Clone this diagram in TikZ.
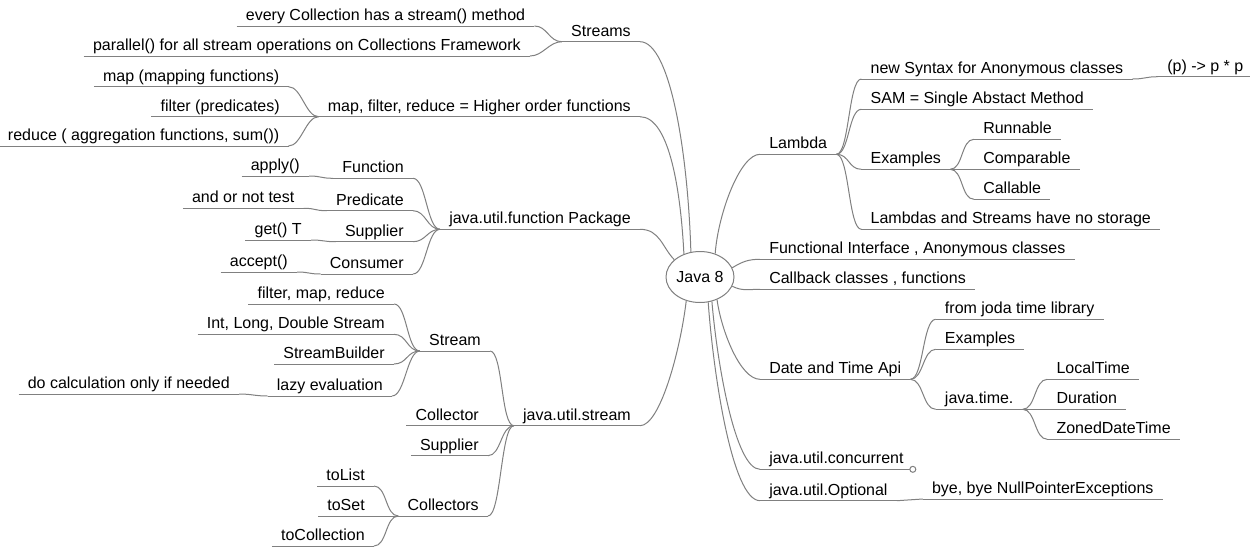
\documentclass[tikz,border=0pt]{standalone}
\usepackage{fontspec}
\setmainfont{Liberation Sans}
\usetikzlibrary{shapes.geometric}
\definecolor{lineGray}{RGB}{128,128,128}
\tikzstyle{branchLine} = [
    draw=lineGray,
    line width=0.75pt
    ]
\tikzstyle{topic} = [
    inner xsep=6.75pt,
    inner ysep=1.5pt,
    text depth=0.25em,
    font=\fontsize{12pt}{14pt}\selectfont,
    append after command={(\tikzlastnode.south west) edge[branchLine] (\tikzlastnode.south east)}
    ]
\tikzstyle{leftTopic} = [
    topic,
    anchor=south east
    ]
\tikzstyle{rightTopic} = [
    topic,
    anchor=south west
    ]
\tikzstyle{rootEllipse} = [
    ellipse,
    draw=lineGray,
    line width=0.75pt,
    minimum width=51pt,
    minimum height=38.25pt,
    inner sep=0pt,
    font=\fontsize{12pt}{14pt}\selectfont
    ]

\begin{document}
\begin{tikzpicture}[x=0.75pt, y=-0.75pt]
    \useasboundingbox[fill=white] (0,0) rectangle (1250,547);
    \node[rootEllipse] (java) at (700,277) {Java 8};

    % left side
    \node[leftTopic] (streams) at (640,41.7) {Streams};
    \node[leftTopic] (every) at (534.4,26) {every Collection has a stream() method};
    \node[leftTopic] (parallel) at (530,56) {parallel() for all stream operations on Collections Framework};
    \node[leftTopic] (mapf) at (640,116.7) {map, filter, reduce = Higher order functions};
    \node[leftTopic] (mapping) at (288.5,86.7) {map (mapping functions)};
    \node[leftTopic] (filterp) at (289,116.7) {filter (predicates)};
    \node[leftTopic] (reduce) at (288.5,146) {reduce ( aggregation functions, sum())};
    \node[leftTopic] (funpkg) at (640,229.3) {java.util.function Package};
    \node[leftTopic] (function) at (413,178.3) {Function};
    \node[leftTopic] (apply) at (309,176) {apply()};
    \node[leftTopic] (predicate) at (413,210.7) {Predicate};
    \node[leftTopic] (andor) at (303.6,208.3) {and or not test};
    \node[leftTopic] (supplier) at (413,241.7) {Supplier};
    \node[leftTopic] (gett) at (311,240) {get() T};
    \node[leftTopic] (consumer) at (413,274) {Consumer};
    \node[leftTopic] (accept) at (297,272) {accept()};
    \node[leftTopic] (stream) at (490,351) {Stream};
    \node[leftTopic] (fmr) at (394,304) {filter, map, reduce};
    \node[leftTopic] (intlong) at (394,334.3) {Int, Long, Double Stream};
    \node[leftTopic] (builder) at (394,364) {StreamBuilder};
    \node[leftTopic] (lazy) at (392,396) {lazy evaluation};
    \node[leftTopic] (calc) at (239,394) {do calculation only if needed};
    \node[leftTopic] (utilstream) at (640,425.7) {java.util.stream};
    \node[leftTopic] (collector) at (488,425.7) {Collector};
    \node[leftTopic] (supplierCol) at (488,455.7) {Supplier};
    \node[leftTopic] (collectors) at (488,516) {Collectors};
    \node[leftTopic] (tolist) at (374,486) {toList};
    \node[leftTopic] (toset) at (374,516) {toSet};
    \node[leftTopic] (tocoll) at (374,546) {toCollection};

    % right side
    \node[rightTopic] (lambda) at (760,154.3) {Lambda};
    \node[rightTopic] (syntax) at (861.4,79) {new Syntax for Anonymous classes};
    \node[rightTopic] (square) at (1158,76.7) {(p) -> p * p};
    \node[rightTopic] (sam) at (861.4,109.3) {SAM = Single Abstact Method};
    \node[rightTopic] (exLambda) at (861.4,169.3) {Examples};
    \node[rightTopic] (runnable) at (974,139.3) {Runnable};
    \node[rightTopic] (comparable) at (974,169.3) {Comparable};
    \node[rightTopic] (callable) at (974,199.3) {Callable};
    \node[rightTopic] (nostorage) at (861.4,229.3) {Lambdas and Streams have no storage};
    \node[rightTopic] (functional) at (760,259.3) {Functional Interface , Anonymous classes};
    \node[rightTopic] (callback) at (760,289.3) {Callback classes , functions};
    \node[rightTopic] (datetime) at (760,379.3) {Date and Time Api};
    \node[rightTopic] (joda) at (935.7,319.3) {from joda time library};
    \node[rightTopic] (exDate) at (935.7,349.3) {Examples};
    \node[rightTopic] (javatime) at (935.7,409.3) {java.time.};
    \node[rightTopic] (localtime) at (1047.3,379.3) {LocalTime};
    \node[rightTopic] (duration) at (1047.3,409.3) {Duration};
    \node[rightTopic] (zoned) at (1047.3,439.3) {ZonedDateTime};
    \node[rightTopic] (concurrent) at (760,469.3) {java.util.concurrent};
    \node[rightTopic] (optional) at (760,500.7) {java.util.Optional};
    \node[rightTopic] (npe) at (922.8,499) {bye, bye NullPointerExceptions};

    % root branches
    \draw[branchLine] (streams.south east) .. controls +(30,0) and +(-3,-100) .. (java.110);
    \draw[branchLine] (mapf.south east) .. controls +(30,0) and +(-3,-60) .. (java.125);
    \draw[branchLine] (funpkg.south east) .. controls +(20,0) and +(-12,-12) .. (java.146);
    \draw[branchLine] (utilstream.south east) .. controls +(20,0) and +(-6,50) .. (java.240);
    \draw[branchLine] (java.57) .. controls +(3,-40) and +(-20,0) .. (lambda.south west);
    \draw[branchLine] (java.16) .. controls +(10,-6) and +(-12,0) .. (functional.south west);
    \draw[branchLine] (java.344) .. controls +(10,5) and +(-12,0) .. (callback.south west);
    \draw[branchLine] (java.307) .. controls +(4,30) and +(-20,0) .. (datetime.south west);
    \draw[branchLine] (java.296) .. controls +(5,60) and +(-25,0) .. (concurrent.south west);
    \draw[branchLine] (java.288) .. controls +(5,70) and +(-28,0) .. (optional.south west);

    % sub branches
    \foreach \a/\b in {lambda/syntax, lambda/sam, lambda/exLambda, lambda/nostorage, syntax/square,
        exLambda/runnable, exLambda/comparable, exLambda/callable, datetime/joda, datetime/exDate,
        datetime/javatime, javatime/localtime, javatime/duration, javatime/zoned, optional/npe}
        \draw[branchLine] (\a.south east) .. controls +(13,0) and +(-13,0) .. (\b.south west);
    \foreach \a/\b in {streams/every, streams/parallel, mapf/mapping, mapf/filterp, mapf/reduce,
        funpkg/function, funpkg/predicate, funpkg/supplier, funpkg/consumer, function/apply,
        predicate/andor, supplier/gett, consumer/accept, utilstream/stream, utilstream/collector,
        utilstream/supplierCol, utilstream/collectors, stream/fmr, stream/intlong, stream/builder,
        stream/lazy, lazy/calc, collectors/tolist, collectors/toset, collectors/tocoll}
        \draw[branchLine] (\a.south west) .. controls +(-13,0) and +(13,0) .. (\b.south east);

    \draw[branchLine, fill=white] (concurrent.south east) circle[radius=2.25pt];
\end{tikzpicture}
\end{document}
